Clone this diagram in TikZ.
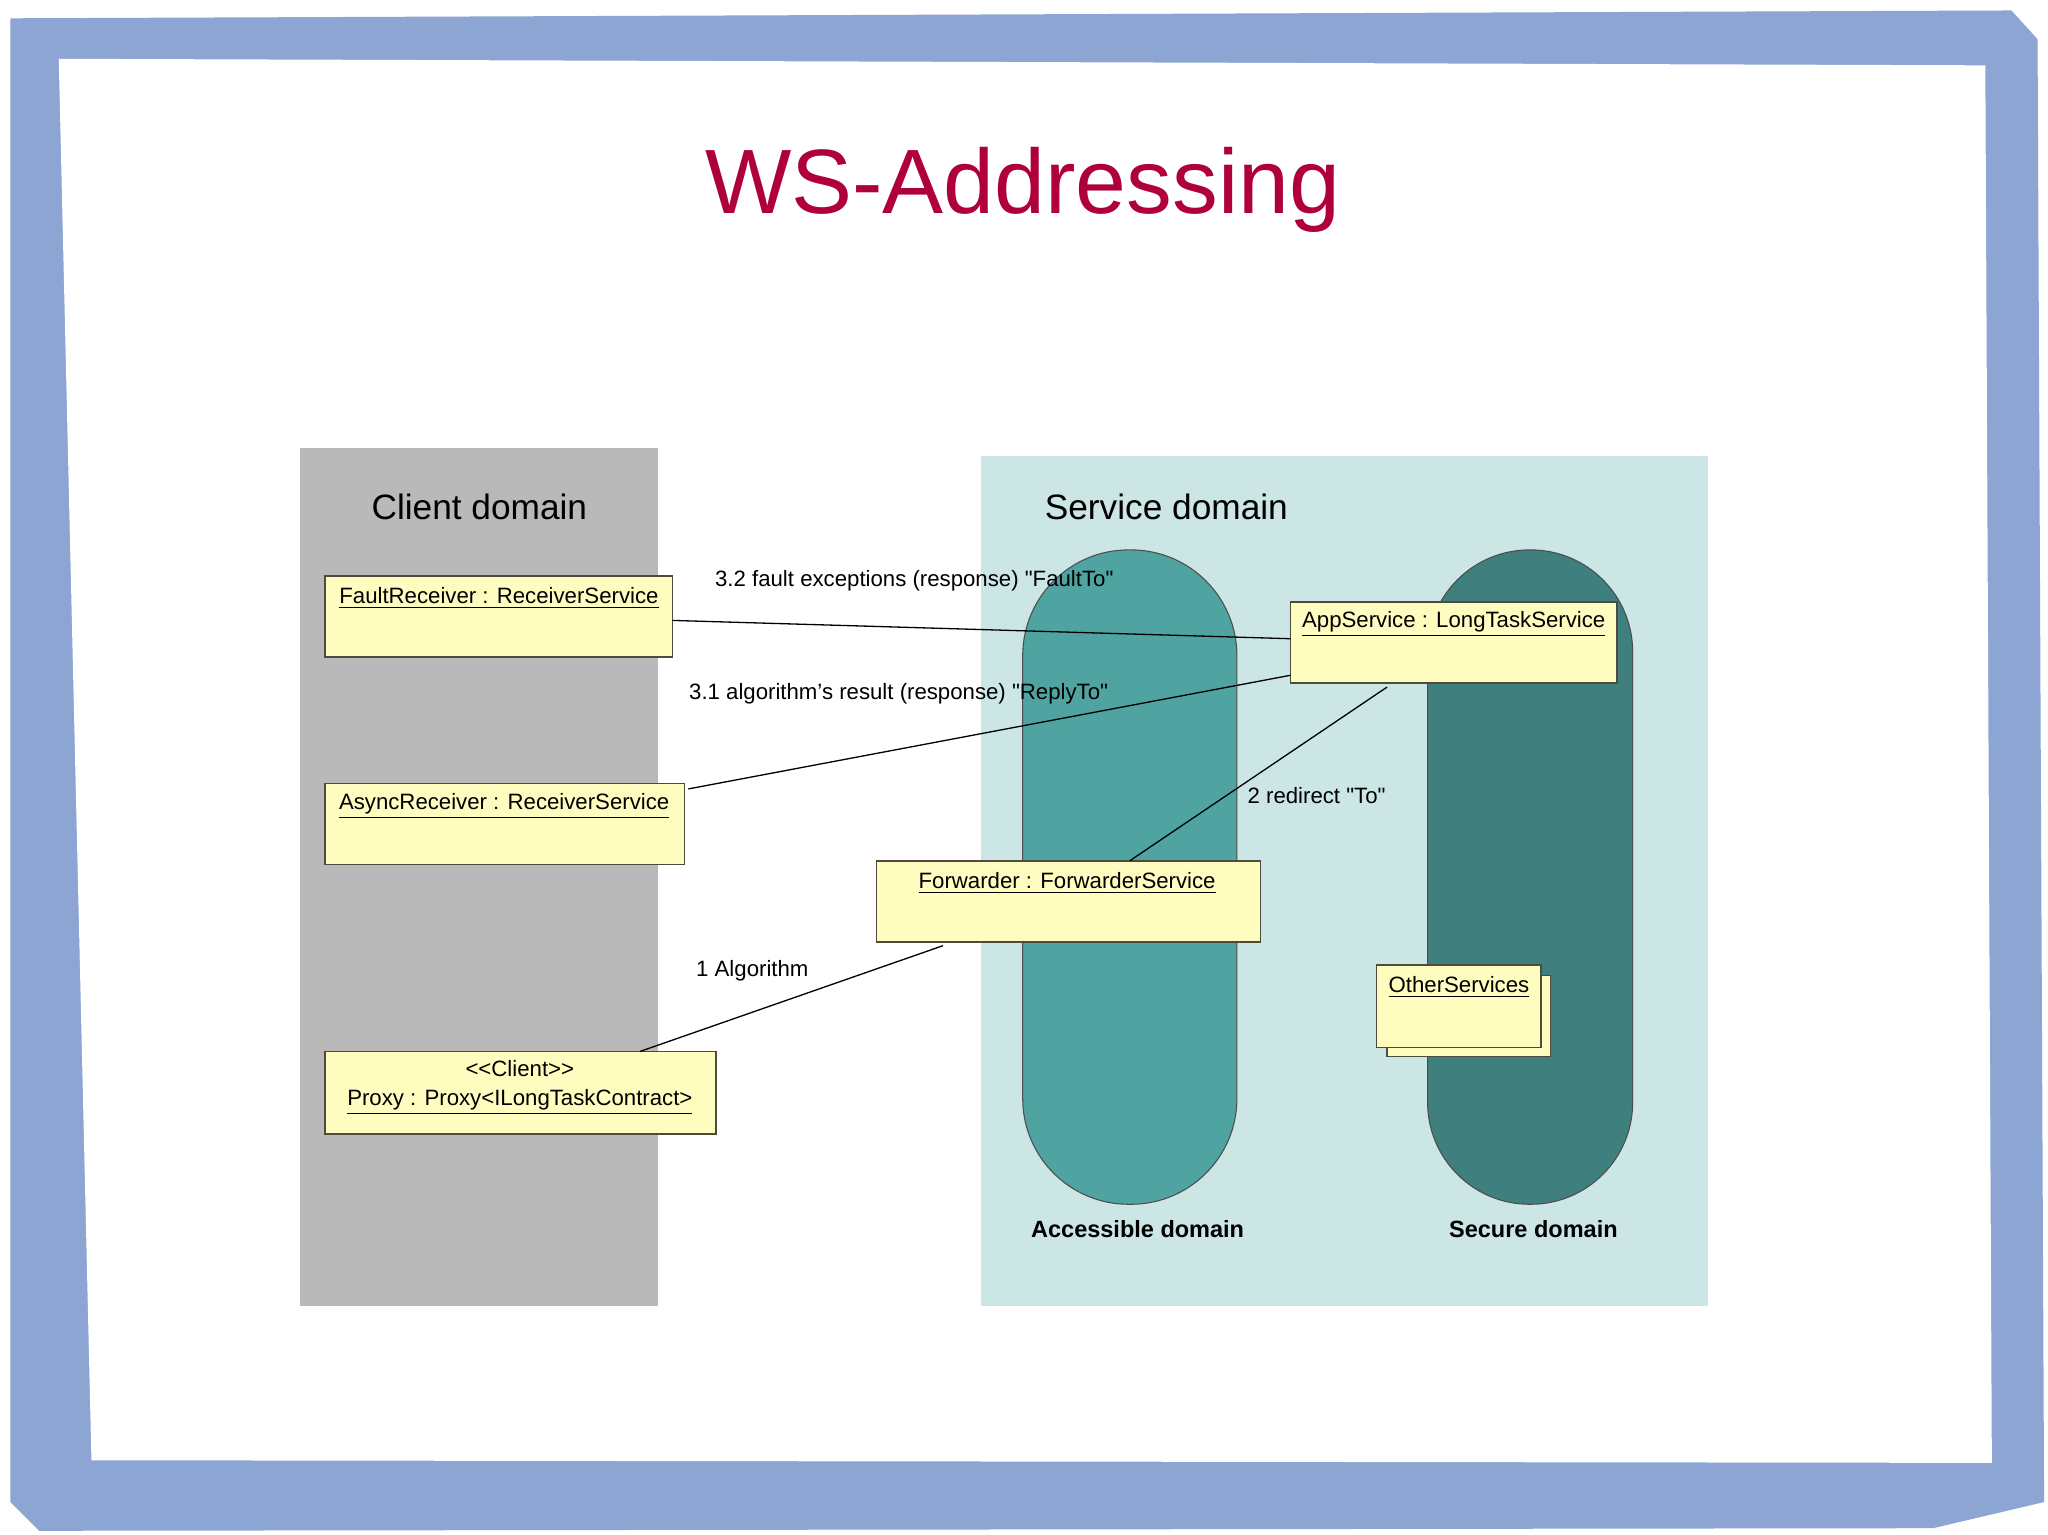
\documentclass[tikz,border=0pt]{standalone}
\usepackage{fontspec}
\setmainfont[Ligatures=NoCommon]{Liberation Sans}
\definecolor{framec}{RGB}{140,165,210}
\definecolor{svc}{RGB}{204,229,229}
\definecolor{acc}{RGB}{79,163,160}
\definecolor{sec}{RGB}{63,127,125}
\definecolor{titlec}{RGB}{176,0,58}
\begin{document}
\begin{tikzpicture}[x=0.5pt,y=-0.5pt,
  obj/.style={draw=black!80!yellow,fill=yellow!25,line width=0.6pt},
  lbl/.style={font=\fontsize{8.5}{10}\selectfont,inner sep=0pt},
  msg/.style={font=\fontsize{8.5}{10}\selectfont,inner sep=1pt},
  dom/.style={font=\fontsize{13.5}{15}\selectfont},
  con/.style={line width=0.5pt}]
\useasboundingbox (0,0) rectangle (1568,1175);
\fill[white] (0,0) rectangle (1568,1175);
% frame
\fill[framec] (8,14) -- (1540,8) -- (1560,30) -- (1565,1150) -- (1480,1170) -- (30,1172) -- (8,1150) -- cycle;
\fill[white] (45,45) -- (1520,50) -- (1525,1120) -- (70,1118) -- cycle;
\node (title) at (783,145) {\fontsize{35}{40}\selectfont\color{titlec}WS-Addressing};
% domains
\fill[gray!55] (230,343) rectangle (504,1000);
\fill[svc] (751,349) rectangle (1308,1000);
\draw[fill=acc,draw=black!70,rounded corners=40.5pt] (783,421) rectangle (947,922);
\draw[fill=sec,draw=black!70,rounded corners=39pt] (1093,421) rectangle (1250,922);
\node[dom] (cd) at (367,388) {Client domain};
\node[dom] (sd) at (893,388) {Service domain};
\node[font=\bfseries\fontsize{9}{10}\selectfont] (ad) at (871,941) {Accessible domain};
\node[font=\bfseries\fontsize{9}{10}\selectfont] (secd) at (1174,941) {Secure domain};
% objects
\draw[obj] (249,441) rectangle (515,503);
\node[lbl] (fault) at (382,458) {\underline{FaultReceiver : ReceiverService}};
\draw[obj] (249,600) rectangle (524,662);
\node[lbl] (async) at (386,617) {\underline{AsyncReceiver : ReceiverService}};
\draw[obj] (249,805) rectangle (548,868);
\node[lbl,align=center] (proxy) at (398,833) {{<}{<}Client{>}{>}\\[1pt]\underline{Proxy : Proxy{<}ILongTaskContract{>}}};
\draw[obj] (988,461) rectangle (1238,523);
\node[lbl] (app) at (1113,478) {\underline{AppService : LongTaskService}};
\draw[obj] (671,659) rectangle (965,721);
\node[lbl] (fwd) at (817,676) {\underline{Forwarder : ForwarderService}};
\draw[obj] (1062,747) rectangle (1187,809);
\draw[obj] (1054,739) rectangle (1180,802);
\node[lbl] (other) at (1117,756) {\underline{OtherServices}};
% connectors
\coordinate (f1) at (515,475); \coordinate (a1) at (988,489);
\coordinate (s1) at (527,604); \coordinate (a2) at (988,517);
\coordinate (a3) at (1062,526); \coordinate (w1) at (865,659);
\coordinate (w2) at (722,724); \coordinate (p1) at (490,805);
\draw[con] (f1) -- (a1);
\draw[con] (s1) -- (a2);
\draw[con] (a3) -- (w1);
\draw[con] (w2) -- (p1);
\node[msg] (m32) at (700,445) {3.2 fault exceptions (response) \textquotedbl FaultTo\textquotedbl};
\node[msg] (m31) at (688,531) {3.1 algorithm's result (response) \textquotedbl ReplyTo\textquotedbl};
\node[msg] (m2) at (1008,609) {2 redirect \textquotedbl To\textquotedbl};
\node[msg] (m1) at (576,743) {1 Algorithm};
\end{tikzpicture}
\end{document}
